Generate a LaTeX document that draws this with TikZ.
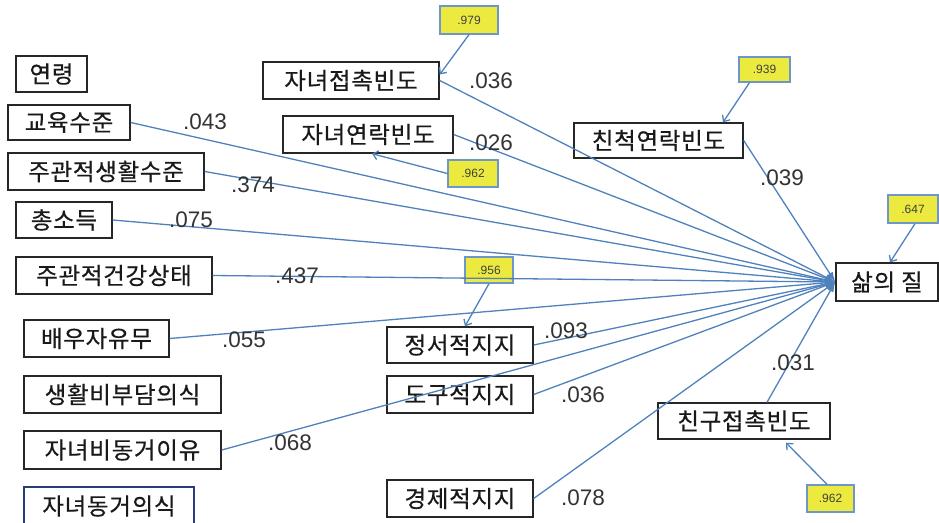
\documentclass[tikz,border=0pt]{standalone}
\usepackage{fontspec}
\setmainfont{Liberation Sans}
\newfontfamily\kr[LetterSpace=3,FakeBold=0.5]{Noto Sans CJK KR}
\usetikzlibrary{arrows.meta}
\definecolor{lineblue}{RGB}{79,129,189}
\definecolor{erryellow}{RGB}{236,234,62}
\definecolor{errborder}{RGB}{110,150,200}
\definecolor{navy}{RGB}{40,60,120}
\tikzset{
  var/.style={draw=black!85, line width=1.4pt, inner sep=0pt, font=\kr\fontsize{23.5}{27}\selectfont, text=black!90},
  errbox/.style={draw=errborder, fill=erryellow, line width=1.3pt, inner sep=0pt, font=\fontsize{12}{13}\selectfont, text=black!75},
  pathline/.style={draw=lineblue, line width=1.3pt, -{Latex[length=10pt,width=7pt]}},
  errline/.style={draw=lineblue, line width=1.3pt, -{Straight Barb[length=5pt,width=9pt]}},
  coef/.style={font=\fontsize{22.5}{26}\selectfont, text=black!80, inner sep=0pt}
}
\begin{document}
\begin{tikzpicture}[x=1pt,y=-1pt]
\useasboundingbox (0,0) rectangle (939,522);
% left column
\node[var, minimum width=71pt, minimum height=36pt] (age) at (51.5,74) {연령};
\node[var, minimum width=122pt, minimum height=35pt] (edu) at (69,122.5) {교육수준};
\node[var, minimum width=196pt, minimum height=37pt] (life) at (106,171.5) {주관적생활수준};
\node[var, minimum width=96pt, minimum height=36pt] (inc) at (64,220) {총소득};
\node[var, minimum width=196pt, minimum height=37pt] (health) at (114,275.5) {주관적건강상태};
\node[var, minimum width=145pt, minimum height=37pt] (spouse) at (96.5,338.5) {배우자유무};
\node[var, minimum width=197pt, minimum height=37pt] (burden) at (122.5,394.5) {생활비부담의식};
\node[var, minimum width=197pt, minimum height=38pt] (reason) at (122.5,450) {자녀비동거이유};
\node[var, draw=navy, minimum width=170pt, minimum height=38pt] (cores) at (109,506) {자녀동거의식};
% middle / right
\node[var, minimum width=176pt, minimum height=37pt] (cmeet) at (351,80.5) {자녀접촉빈도};
\node[var, minimum width=170pt, minimum height=37pt] (ccall) at (368,134.5) {자녀연락빈도};
\node[var, minimum width=169pt, minimum height=35pt] (kin) at (658.5,140.5) {친척연락빈도};
\node[var, minimum width=102pt, minimum height=38pt] (qol) at (887,282) {삶의 질};
\node[var, minimum width=146pt, minimum height=36pt] (emo) at (460,345) {정서적지지};
\node[var, minimum width=146pt, minimum height=37pt] (inst) at (460,394.5) {도구적지지};
\node[var, minimum width=146pt, minimum height=37pt] (econ) at (460,498.5) {경제적지지};
\node[var, minimum width=172pt, minimum height=36pt] (friend) at (744,421) {친구접촉빈도};
% error boxes
\node[errbox, minimum width=58pt, minimum height=28pt] (e1) at (469,20) {.979};
\node[errbox, minimum width=50pt, minimum height=27pt] (e2) at (473,173.5) {.962};
\node[errbox, minimum width=51pt, minimum height=25pt] (e3) at (764.5,69.5) {.939};
\node[errbox, minimum width=50pt, minimum height=28pt] (e4) at (913,209) {.647};
\node[errbox, minimum width=48pt, minimum height=26pt] (e5) at (489,270) {.956};
\node[errbox, minimum width=47pt, minimum height=27pt] (e6) at (830.5,498.5) {.962};
% paths to quality of life
\draw[pathline] (edu.east) -- (qol.west);
\draw[pathline] (life.east) -- (qol.west);
\draw[pathline] (inc.east) -- (qol.west);
\draw[pathline] (health.east) -- (qol.west);
\draw[pathline] (spouse.east) -- (qol.west);
\draw[pathline] (reason.east) -- (qol.west);
\draw[pathline] (cmeet.east) -- (qol.west);
\draw[pathline] (ccall.east) -- (qol.west);
\draw[pathline] (kin.east) -- (qol.west);
\draw[pathline] (emo.east) -- (qol.west);
\draw[pathline] (inst.east) -- (qol.west);
\draw[pathline] (econ.east) -- (qol.west);
\draw[pathline] ([xshift=23pt]friend.north) -- (qol.west);
% error arrows
\draw[errline] (e1.south) -- ([yshift=6pt]cmeet.east);
\draw[errline] (e2.west) -- ([xshift=4pt]ccall.south);
\draw[errline] ([xshift=-15pt]e3.south) -- ([xshift=64.5pt]kin.north);
\draw[errline] ([xshift=2pt]e4.south) -- ([xshift=3pt]qol.north);
\draw[errline] (e5.south) -- ([xshift=5pt]emo.north);
\draw[errline] ([xshift=-3.5pt]e6.north) -- ([xshift=42pt,yshift=-3pt]friend.south);
% coefficients
\node[coef] (c1) at (205,122) {.043};
\node[coef] (c2) at (253,185) {.374};
\node[coef] (c3) at (191,220) {.075};
\node[coef] (c4) at (297,276) {.437};
\node[coef] (c5) at (244,340) {.055};
\node[coef] (c6) at (290,443) {.068};
\node[coef] (c7) at (491,81) {.036};
\node[coef] (c8) at (491,143) {.026};
\node[coef] (c9) at (782,178) {.039};
\node[coef] (c10) at (566,331) {.093};
\node[coef] (c11) at (583,395) {.036};
\node[coef] (c12) at (583,498) {.078};
\node[coef] (c13) at (793,363) {.031};
\end{tikzpicture}
\end{document}
